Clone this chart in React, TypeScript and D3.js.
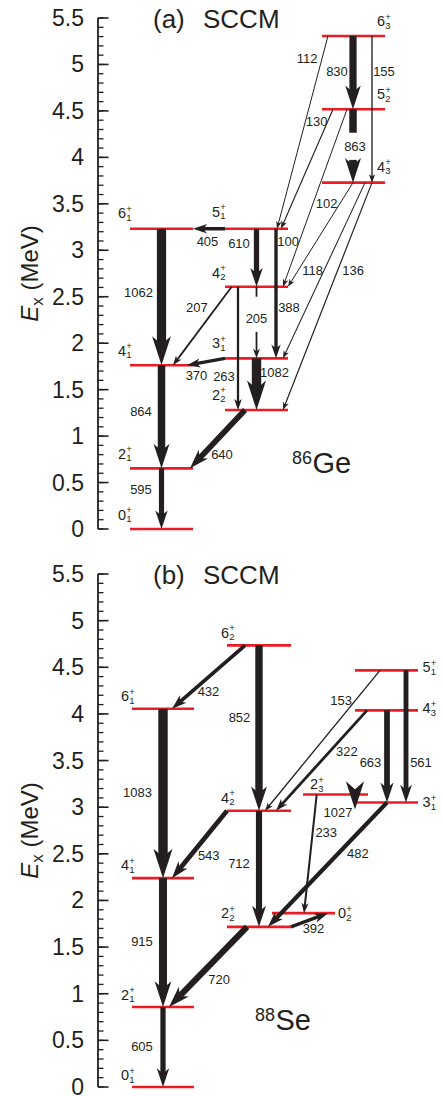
import React from "react";
import * as d3 from "d3";

const W = 442;
const H = 1097;
const FONT = "'Liberation Sans', Arial, Helvetica, sans-serif";
const RED = "#ec1c24";
const INK = "#231f20";

// ---- data: 86Ge (SCCM) ----
const geLevelNames = ["0_1", "2_1", "4_1", "6_1", "2_2", "3_1", "4_2", "5_1", "4_3", "5_2", "6_3"];
const geLevelE = [0, 0.653, 1.762, 3.232, 1.281, 1.837, 2.608, 3.232, 3.728, 4.518, 5.307];
const geFrom = ["6_1", "4_1", "2_1", "5_1", "5_1", "5_1", "4_2", "4_2", "3_1", "4_2", "3_1", "2_2", "6_3", "5_2", "6_3", "6_3", "5_2", "5_2", "4_3", "4_3", "4_3"];
const geTo = ["4_1", "2_1", "0_1", "6_1", "4_2", "3_1", "3_1", "2_2", "2_2", "4_1", "4_1", "2_1", "5_2", "4_3", "4_3", "5_1", "5_1", "4_2", "4_2", "3_1", "2_2"];
const geBE2 = [1062, 864, 595, 405, 610, 388, 205, 263, 1082, 207, 370, 640, 830, 863, 155, 112, 130, 100, 102, 118, 136];

// ---- data: 88Se (SCCM) ----
const seLevelNames = ["0_1", "2_1", "4_1", "6_1", "6_2", "4_2", "2_2", "0_2", "2_3", "3_1", "5_1", "4_3"];
const seLevelE = [0, 0.858, 2.239, 4.056, 4.735, 2.961, 1.717, 1.864, 3.136, 3.05, 4.467, 4.038];
const seFrom = ["6_1", "4_1", "2_1", "6_2", "6_2", "4_2", "4_2", "2_2", "5_1", "4_3", "4_3", "5_1", "2_3", "2_3", "3_1", "2_2"];
const seTo = ["4_1", "2_1", "0_1", "6_1", "4_2", "4_1", "2_2", "2_1", "4_2", "4_2", "3_1", "3_1", "3_1", "0_2", "2_2", "0_2"];
const seBE2 = [1083, 915, 605, 432, 852, 543, 712, 720, 153, 322, 663, 561, 1027, 233, 482, 392];

const yTickLabels = ["0", "0.5", "1", "1.5", "2", "2.5", "3", "3.5", "4", "4.5", "5", "5.5"];

// ---- layout (pixels, not data) ----
// level bar extents [x0, x1] and label placement [anchor x, dx, baseline dy]
const geLevelX = [[130, 193], [130, 193], [130, 193], [130, 193], [225, 288], [225, 288], [225, 288], [225, 288], [322, 385], [322, 385], [322, 385]];
const geLevelLab = [[130, -12, -9.5], [130, -12, -9.5], [130, -12, -9.5], [130, -12, -10.5], [225, -13, -10], [225, -13, -10], [225, -13, -9], [225, -13, -12], [385, -8, -11], [385, -8, -10], [385, -8, -9.5]];
// [x1, x2, label t, label dx, label dy, gap t0, gap t1, end dy]
const geTransLay = [
  [161.5, 161.5, 0.464, -23, 0],
  [161.5, 161.5, 0.444, -20.5, 0],
  [161.5, 161.5, 0.357, -20.5, 0],
  [225, 193, 0.547, 0, 13],
  [256.5, 256.5, 0.25, -17.5, 0],
  [276, 276, 0.61, 13, 0],
  [256.5, 256.5, 0.45, 0, 0, 0.14, 0.63],
  [238, 238, 0.732, -14, 0],
  [256.5, 256.5, 0.28, 18, 0],
  [231.7, 173, 0.271, -19, 0],
  [225, 187, 0.75, 0, 11.5],
  [245, 190, 0.6, 10, 10],
  [353, 353, 0.487, -16, 0],
  [353, 353, 0.51, 2, 0, 0.32, 0.69],
  [372, 372, 0.243, 12, 0],
  [328, 277, 0.116, -15, 0],
  [333, 281, 0.104, -11, 0],
  [347, 283, 0.748, -11, 0],
  [353, 288, 0.205, -13, 0],
  [365, 283, 0.501, -11.4, 0],
  [372, 283, 0.387, 15.5, 0],
];

const seLevelX = [[132, 194], [132, 194], [132, 194], [132, 194], [227, 291], [227, 291], [227, 291], [272, 335], [303, 368], [355, 418], [355, 418], [355, 418]];
const seLevelLab = [[132, -11, -7], [132, -11, -7], [132, -11, -8], [132, -11, -7.5], [227, -6, -7.5], [227, -6, -8], [227, -6, -8.5], [335, 3, 5], [303, 7, -5], [418, 4.5, 4.5], [418, 4.5, 2], [418, 4.5, 3]];
const seTransLay = [
  [163, 163, 0.492, -25.5, 0],
  [163, 163, 0.494, -21, 0],
  [163, 163, 0.49, -21, 0],
  [245, 172, 0.5, 0, 14],
  [259, 259, 0.436, -19.5, 0],
  [227, 172, 0.55, 12, 8],
  [259, 259, 0.45, -20, 0],
  [247, 169, 0.55, 15, 8.5],
  [380, 265, 0.216, -14, 0],
  [367, 276, 0.409, 17, 0],
  [387, 387, 0.565, -16.5, 0],
  [406, 406, 0.697, 15, 0],
  [355, 355, 1, -17, 3, null, null, 7],
  [316.7, 304, 0.32, 13.6, 0],
  [387, 268, 0.413, 20, 0],
  [291, 328, 0.5, 4, 8.5],
];

const widthScale = d3.scaleLinear().domain([0, 1150]).range([0, 10]);
const AXIS_X = 98;

function LevelLabel({ x, y, name }: { x: number; y: number; name: string }) {
  const [j, k] = name.split("_");
  return (
    <g fontFamily={FONT} fill={INK}>
      <text x={x} y={y} fontSize={14.5}>{j}</text>
      <text x={x + 8.3} y={y - 6.5} fontSize={9.5}>+</text>
      <text x={x + 8.3} y={y + 2.5} fontSize={9.5}>{k}</text>
    </g>
  );
}

function Transition({ x1, y1, x2, y2, w, gap, label, lt, ldx, ldy }: any) {
  const dx = x2 - x1;
  const dy = y2 - y1;
  const L = Math.hypot(dx, dy);
  const ux = dx / L, uy = dy / L;
  const px = -uy, py = ux;
  const hl = 5 + 2.6 * w;
  const hw = 2 + 0.8 * w;
  const notch = hl * 0.72;
  const bx = x2 - ux * hl, by = y2 - uy * hl;
  const nx = x2 - ux * notch, ny = y2 - uy * notch;
  const head = `M${x2},${y2}L${bx + px * hw},${by + py * hw}L${nx},${ny}L${bx - px * hw},${by - py * hw}Z`;
  const shaftEnd = L - notch + 0.5;
  const segs: number[][] = [];
  if (shaftEnd > 0) {
    if (gap) {
      segs.push([0, gap[0] * L]);
      if (gap[1] * L < shaftEnd) segs.push([gap[1] * L, shaftEnd]);
    } else segs.push([0, shaftEnd]);
  }
  const lx = x1 + dx * lt + ldx;
  const ly = y1 + dy * lt + ldy;
  return (
    <g>
      {segs.map((s, i) => (
        <line key={i} x1={x1 + ux * s[0]} y1={y1 + uy * s[0]} x2={x1 + ux * s[1]} y2={y1 + uy * s[1]}
          stroke={INK} strokeWidth={w} />
      ))}
      <path d={head} fill={INK} />
      <text x={lx} y={ly} fontSize={13} fontFamily={FONT} fill={INK} textAnchor="middle" dominantBaseline="central">
        {label}
      </text>
    </g>
  );
}

function Panel(props: any) {
  const { names, energies, from, to, be2, levelX, levelLab, transLay, yRange, tag, mass, element, nucX, nucY } = props;
  const y = d3.scaleLinear().domain([0, 5.5]).range(yRange);
  const idx = (n: string) => names.indexOf(n);
  const minor = d3.range(0, 56).map((i) => i / 10);
  const major = yTickLabels.map((t) => +t);
  const mid = y(2.75);
  return (
    <g>
      {/* axis */}
      <line x1={AXIS_X} x2={AXIS_X} y1={y(0)} y2={y(5.5)} stroke={INK} strokeWidth={1.8} />
      {minor.map((v) => (
        <line key={"m" + v} x1={AXIS_X} x2={AXIS_X + 5.5} y1={y(v)} y2={y(v)} stroke={INK} strokeWidth={1.3} />
      ))}
      {major.map((v, i) => (
        <g key={"M" + v}>
          <line x1={AXIS_X} x2={AXIS_X + 10.5} y1={y(v)} y2={y(v)} stroke={INK} strokeWidth={1.6} />
          <text x={84} y={y(v)} fontSize={23} fontFamily={FONT} fill={INK} textAnchor="end" dominantBaseline="central">
            {yTickLabels[i]}
          </text>
        </g>
      ))}
      <text transform={`translate(38,${mid}) rotate(-90)`} fontSize={24} fontFamily={FONT} fill={INK} textAnchor="middle">
        <tspan fontStyle="italic">E</tspan>
        <tspan fontSize={17} dy={5}>x</tspan>
        <tspan dy={-5}> (MeV)</tspan>
      </text>
      <text x={153} y={y(5.5) + 10} fontSize={26} fontFamily={FONT} fill={INK}>{tag}</text>
      <text x={203} y={y(5.5) + 10} fontSize={26} fontFamily={FONT} fill={INK}>SCCM</text>
      <text x={nucX} y={nucY - 9} fontSize={18} fontFamily={FONT} fill={INK}>{mass}</text>
      <text x={nucX + mass.length * 10.2} y={nucY} fontSize={29} fontFamily={FONT} fill={INK}>{element}</text>

      {/* levels */}
      {names.map((n: string, i: number) => (
        <line key={"l" + n} x1={levelX[i][0]} x2={levelX[i][1]} y1={y(energies[i])} y2={y(energies[i])}
          stroke={RED} strokeWidth={2.6} />
      ))}
      {/* transitions */}
      {from.map((f: string, i: number) => {
        const t = to[i];
        const lay = transLay[i];
        const y1 = y(energies[idx(f)]);
        const y2 = y(energies[idx(t)]) + (lay[7] || 0);
        const gap = lay[5] != null ? [lay[5], lay[6]] : null;
        return (
          <Transition key={"t" + i} x1={lay[0]} x2={lay[1]} y1={y1} y2={y2}
            w={Math.max(1, widthScale(be2[i]))} gap={gap} label={be2[i]}
            lt={lay[2]} ldx={lay[3]} ldy={lay[4]} />
        );
      })}
      {/* level labels */}
      {names.map((n: string, i: number) => (
        <LevelLabel key={"n" + n} name={n} x={levelLab[i][0] + levelLab[i][1]} y={y(energies[i]) + levelLab[i][2]} />
      ))}
    </g>
  );
}

export default function App() {
  return (
    <svg width={W} height={H} viewBox={`0 0 ${W} ${H}`}
      style={{ position: "absolute", left: 0, top: 0, background: "#fff", display: "block" }}>
      <rect width={W} height={H} fill="#fff" />
      <Panel names={geLevelNames} energies={geLevelE} from={geFrom} to={geTo} be2={geBE2}
        levelX={geLevelX} levelLab={geLevelLab} transLay={geTransLay} yRange={[529, 18]}
        tag="(a)" mass="86" element="Ge" nucX={292} nucY={473} />
      <Panel names={seLevelNames} energies={seLevelE} from={seFrom} to={seTo} be2={seBE2}
        levelX={seLevelX} levelLab={seLevelLab} transLay={seTransLay} yRange={[1087, 574]}
        tag="(b)" mass="88" element="Se" nucX={255} nucY={1030} />
    </svg>
  );
}
